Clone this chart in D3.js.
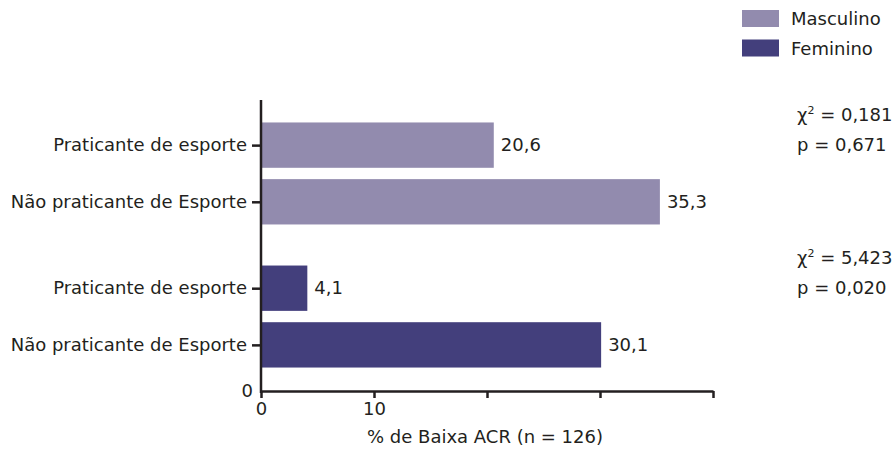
<!DOCTYPE html>
<html>
<head>
<meta charset="utf-8">
<script src="https://cdn.jsdelivr.net/npm/d3@7"></script>
<style>
  body { margin: 0; background: #fff; }
  text { font-family: "DejaVu Sans", sans-serif; fill: #231f20; }
</style>
</head>
<body>
<script>
// groups (sexo) and categories, values in % de baixa ACR
var groups = ["Masculino", "Feminino"];
var categories = ["Praticante de esporte", "Não praticante de Esporte"];
var masculino = [20.6, 35.3];
var feminino = [4.1, 30.1];
var valueLabels = [["20,6", "35,3"], ["4,1", "30,1"]];
var chiLines = [["0,181", "0,671"], ["5,423", "0,020"]];
var xTicks = [0, 10, 20, 30, 40];
var xTickLabels = ["0", "10", "", "", ""];
var colors = ["#928bae", "#433f7c"];

var width = 894, height = 457;
var font = "'DejaVu Sans', sans-serif";

var svg = d3.select("body").append("svg")
    .attr("width", width)
    .attr("height", height);

// x scale: 0 sits on the y axis
var x = d3.scaleLinear().domain([0, 40]).range([261, 713]);

// outer band for the two groups, inner band for the two categories
var yGroup = d3.scaleBand().domain(groups).range([100, 390])
    .paddingInner(0.287).paddingOuter(0.157);
var yCat = d3.scaleBand().domain(categories).range([0, yGroup.bandwidth()])
    .paddingInner(0.2);

// flatten data
var rows = [];
groups.forEach(function(g, gi) {
  var vals = gi === 0 ? masculino : feminino;
  categories.forEach(function(c, ci) {
    rows.push({key: g + "|" + c, group: g, gi: gi, cat: c, value: vals[ci], label: valueLabels[gi][ci]});
  });
});

var yTick = d3.scaleOrdinal()
    .domain(rows.map(function(d) { return d.key; }))
    .range(rows.map(function(d) { return yGroup(d.group) + yCat(d.cat) + yCat.bandwidth() / 2; }));

// bars
svg.selectAll("rect.bar")
    .data(rows)
  .enter().append("rect")
    .attr("class", "bar")
    .attr("x", x(0))
    .attr("y", function(d) { return yGroup(d.group) + yCat(d.cat); })
    .attr("width", function(d) { return x(d.value) - x(0); })
    .attr("height", yCat.bandwidth())
    .attr("fill", function(d) { return colors[d.gi]; });

// value labels
svg.selectAll("text.val")
    .data(rows)
  .enter().append("text")
    .attr("class", "val")
    .attr("x", function(d) { return x(d.value) + 7; })
    .attr("y", function(d) { return yTick(d.key); })
    .attr("dy", "0.35em")
    .style("font-size", "18px")
    .text(function(d) { return d.label; });

// y axis (category ticks)
var yAxis = svg.append("g")
    .attr("transform", "translate(" + x(0) + ",0)")
    .call(d3.axisLeft(yTick).tickSize(9).tickPadding(5)
      .tickFormat(function(k) { return k.split("|")[1]; }));
yAxis.select(".domain").remove();
yAxis.selectAll(".tick line").attr("stroke", "#231f20").attr("stroke-width", 2.5);
yAxis.selectAll(".tick text")
    .style("font-family", font)
    .style("font-size", "18px")
    .attr("fill", "#231f20");

// y axis line
svg.append("line")
    .attr("x1", x(0)).attr("x2", x(0))
    .attr("y1", 100).attr("y2", 393)
    .attr("stroke", "#231f20").attr("stroke-width", 2.5);

// "0" at the origin of the y axis
svg.append("text")
    .attr("x", x(0) - 8)
    .attr("y", 391)
    .attr("dy", "0.35em")
    .attr("text-anchor", "end")
    .style("font-size", "18px")
    .text("0");

// x axis
var xAxis = svg.append("g")
    .attr("transform", "translate(0,391)")
    .call(d3.axisBottom(x).tickValues(xTicks).tickSize(7).tickSizeOuter(0).tickPadding(4)
      .tickFormat(function(d, i) { return xTickLabels[i]; }));
xAxis.select(".domain").attr("stroke", "#231f20").attr("stroke-width", 2.5);
xAxis.selectAll(".tick line").attr("stroke", "#231f20").attr("stroke-width", 2.5);
xAxis.selectAll(".tick text")
    .style("font-family", font)
    .style("font-size", "18px")
    .attr("fill", "#231f20");

// x axis title
svg.append("text")
    .attr("x", 485)
    .attr("y", 443)
    .attr("text-anchor", "middle")
    .style("font-size", "18px")
    .text("% de Baixa ACR (n = 126)");

// legend
var legend = svg.selectAll("g.legend")
    .data(groups)
  .enter().append("g")
    .attr("class", "legend")
    .attr("transform", function(d, i) { return "translate(742," + (10 + i * 29.5) + ")"; });
legend.append("rect")
    .attr("width", 37).attr("height", 17)
    .attr("fill", function(d, i) { return colors[i]; });
legend.append("text")
    .attr("x", 49).attr("y", 9)
    .attr("dy", "0.35em")
    .style("font-size", "18px")
    .text(function(d) { return d; });

// chi-square annotations, one per group
var chi = svg.selectAll("g.chi")
    .data(chiLines)
  .enter().append("g")
    .attr("class", "chi")
    .attr("transform", function(d, i) { return "translate(797," + (yGroup(groups[i]) - 8) + ")"; });
var chiText = chi.append("text")
    .attr("y", 0)
    .attr("dy", "0.35em")
    .style("font-size", "18px");
chiText.append("tspan").text("χ");
chiText.append("tspan").attr("dy", "-7").style("font-size", "11px").text("2");
chiText.append("tspan").attr("dy", "7").text(function(d) { return " = " + d[0]; });
chi.append("text")
    .attr("y", 30)
    .attr("dy", "0.35em")
    .style("font-size", "18px")
    .text(function(d) { return "p = " + d[1]; });
</script>
</body>
</html>
